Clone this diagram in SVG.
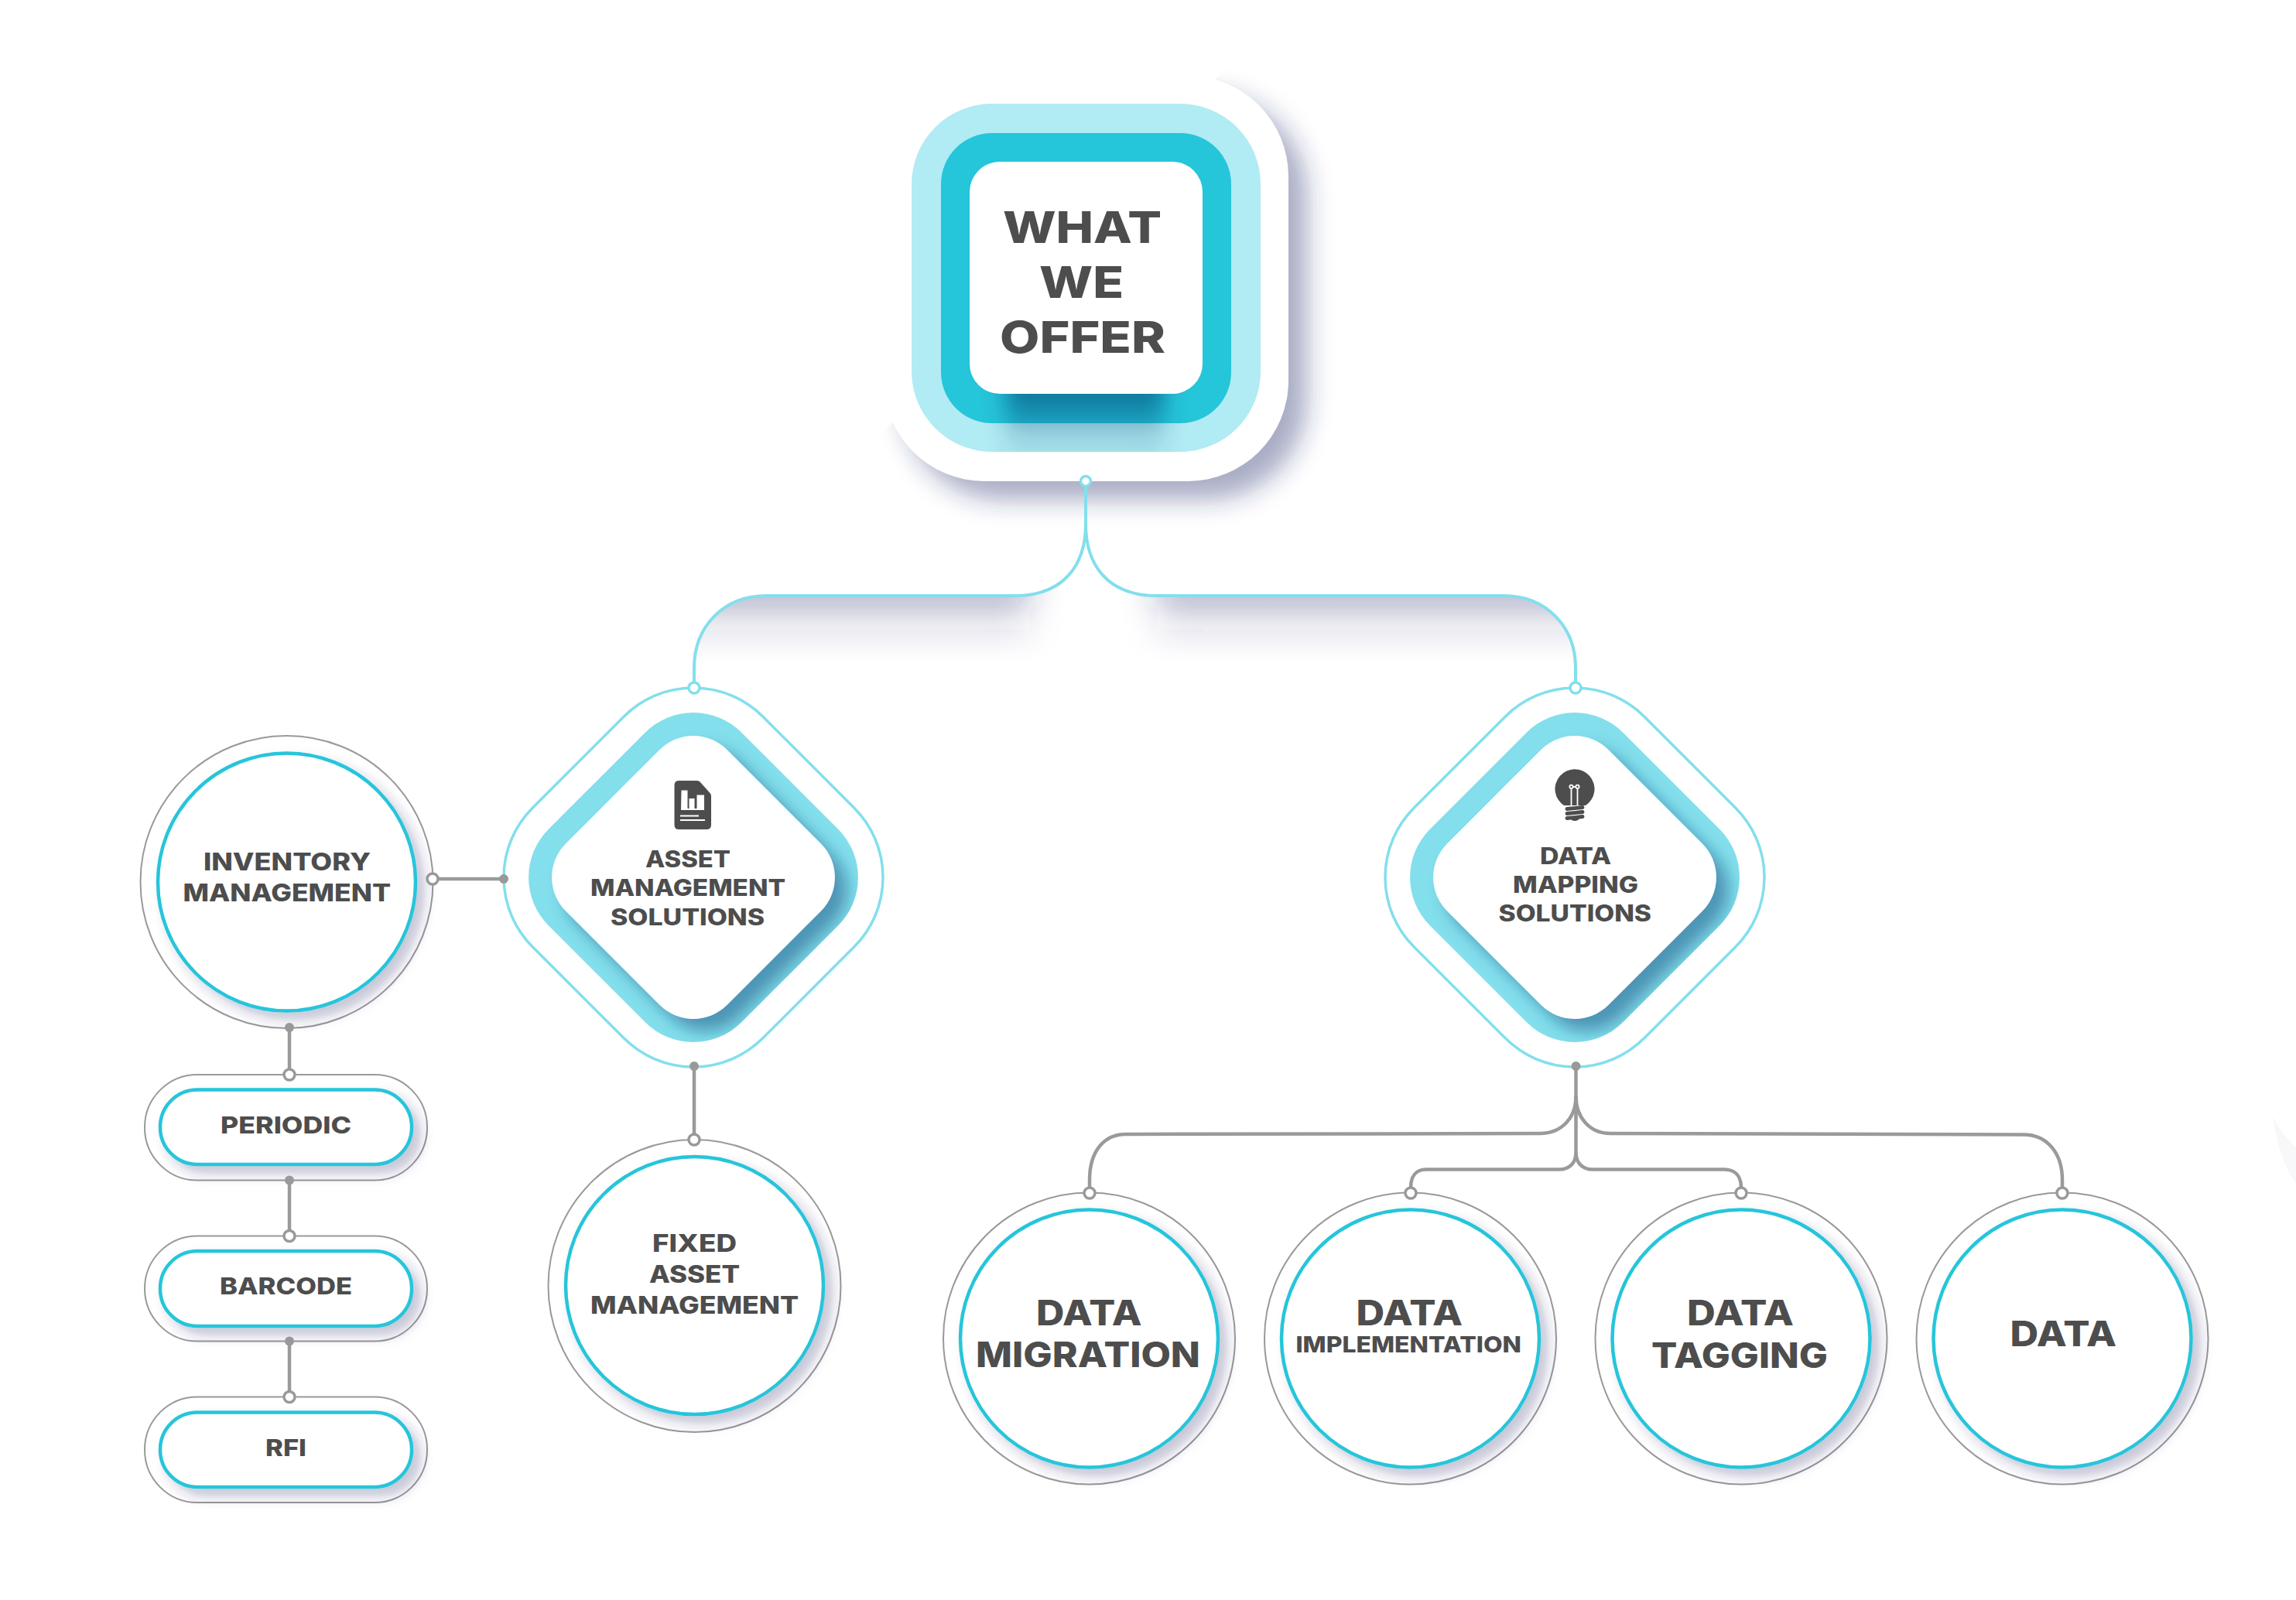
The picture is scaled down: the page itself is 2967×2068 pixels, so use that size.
<svg xmlns="http://www.w3.org/2000/svg" width="2967" height="2068" viewBox="0 0 2967 2068">
<style>
text{font-family:"Inter","Liberation Sans",sans-serif;font-weight:800;fill:#4d4d4d}
.ring{fill:#fff;stroke:#999;stroke-width:2}
.core{fill:#fff;stroke:#25c5da;stroke-width:4.5;filter:url(#soft)}
.dl{fill:none;stroke:#83dfec;stroke-width:3.5}
.band{fill:#83dfec}
.cy{fill:none;stroke:#83dfec;stroke-width:4}
.gr{fill:none;stroke:#9a9a9a;stroke-width:4.500}
.gd{fill:#999}
.go{fill:#fff;stroke:#999;stroke-width:3.5}
.cd{fill:#fff;stroke:#83dfec;stroke-width:3.5}
.ic{fill:#4d4d4d}
.icw{fill:#fff}
</style>
<defs>
<filter id="soft" x="-20%" y="-30%" width="140%" height="160%"><feDropShadow dx="10" dy="10" stdDeviation="8" flood-color="#2b2d6e" flood-opacity=".28"/></filter>
<filter id="b16" x="-20%" y="-20%" width="140%" height="140%"><feGaussianBlur stdDeviation="16"/></filter>
<filter id="b14" x="-30%" y="-30%" width="160%" height="160%"><feGaussianBlur stdDeviation="14"/></filter>
<filter id="b10" x="-30%" y="-30%" width="160%" height="160%"><feGaussianBlur stdDeviation="10"/></filter>
<filter id="bw" x="-30%" y="-30%" width="160%" height="160%"><feGaussianBlur stdDeviation="22 8"/></filter>
<linearGradient id="sh" gradientUnits="userSpaceOnUse" x1="0" y1="770" x2="0" y2="850"><stop offset="0" stop-color="#2b2d6e" stop-opacity=".3"/><stop offset=".45" stop-color="#2b2d6e" stop-opacity=".1"/><stop offset="1" stop-color="#2b2d6e" stop-opacity="0"/></linearGradient>
<linearGradient id="boxsh" gradientUnits="userSpaceOnUse" x1="0" y1="505" x2="0" y2="590"><stop offset="0" stop-color="#0b3f70" stop-opacity=".6"/><stop offset=".48" stop-color="#0b3f70" stop-opacity=".3"/><stop offset=".5" stop-color="#0b3f70" stop-opacity=".18"/><stop offset="1" stop-color="#0b3f70" stop-opacity=".06"/></linearGradient>
<path id="dOuter" d="M-89.8-207.8A127 127 0 0 1 89.8-207.8L207.8-89.8A127 127 0 0 1 207.8 89.8L89.8 207.8A127 127 0 0 1-89.8 207.8L-207.8 89.8A127 127 0 0 1-207.8-89.8Z"/>
<path id="dBand" d="M-62.2-187.2A88 88 0 0 1 62.2-187.2L187.2-62.2A88 88 0 0 1 187.2 62.2L62.2 187.2A88 88 0 0 1-62.2 187.2L-187.2 62.2A88 88 0 0 1-187.2-62.2Z"/>
<path id="dCore" d="M-43.8-164.8A62 62 0 0 1 43.8-164.8L164.8-43.8A62 62 0 0 1 164.8 43.8L43.8 164.8A62 62 0 0 1-43.8 164.8L-164.8 43.8A62 62 0 0 1-164.8-43.8Z"/>
<clipPath id="cBand"><use href="#dBand"/></clipPath>
<clipPath id="cLight"><rect x="1178" y="134" width="451" height="450" rx="104"/></clipPath>
<clipPath id="cDiag"><polygon points="1610,60 2000,60 2000,900 1000,900 1000,700 1145,555"/></clipPath>
<clipPath id="cArchL"><path d="M1403 677C1403 730 1375 770 1311.500 770H990C935 770 897 810 897 863V900H1403Z"/></clipPath>
<clipPath id="cArchR"><path d="M1403 677C1403 730 1431 770 1495 770H1943C1998 770 2036 810 2036 863V900H1403Z"/></clipPath>
</defs>
<rect width="2967" height="2068" fill="#fff"/>
<path d="M2937 1443Q2950 1468 2967 1483V1530Q2945 1500 2937 1443Z" fill="#2b2d6e" fill-opacity=".035"/>

<g id="node-what-we-offer">
<g clip-path="url(#cDiag)"><rect x="1166" y="122" width="523" height="524" rx="130" fill="#2b2d6e" fill-opacity=".4" filter="url(#b16)"/></g>
<rect x="1142" y="98" width="523" height="524" rx="130" fill="#fff"/>
<rect x="1178" y="134" width="451" height="450" rx="104" fill="#b1ebf3"/>
<rect x="1216" y="172" width="375" height="375" rx="66" fill="#25c5da"/>
<g clip-path="url(#cLight)"><rect x="1300" y="480" width="205" height="115" fill="url(#boxsh)" filter="url(#b14)"/></g>
<rect x="1253" y="209" width="301" height="300" rx="39" fill="#fff"/>
<text x="1296" y="314" font-size="57" textLength="205" lengthAdjust="spacingAndGlyphs">WHAT</text>
<text x="1343" y="385" font-size="57" textLength="109" lengthAdjust="spacingAndGlyphs">WE</text>
<text x="1292" y="456" font-size="57" textLength="214" lengthAdjust="spacingAndGlyphs">OFFER</text>
</g>

<g id="node-asset-solutions">
<g transform="translate(896 1134)">
<use href="#dOuter" class="dl" fill="#fff"/>
<use href="#dBand" class="band"/>
<g clip-path="url(#cBand)"><use href="#dCore" x="16" y="16" fill="#1b4c80" fill-opacity=".5" filter="url(#b10)"/></g>
<use href="#dCore" fill="#fff"/>
</g>
<path class="ic" d="M877 1009H901Q903 1009 904.500 1010.500L917.500 1025Q919 1026.500 919 1029V1066Q919 1072 913 1072H877Q871.500 1072 871.500 1066V1015Q871.500 1009 877 1009Z"/>
<path class="icw" d="M880.500 1021.500H888.500V1045H890.500V1032H897.500V1045H900.500V1027.500H910V1047H880Z"/>
<rect class="icw" x="879" y="1053.500" width="24" height="2"/>
<rect class="icw" x="879" y="1059" width="32" height="2"/>
<text x="834" y="1121" font-size="29.300" textLength="110" lengthAdjust="spacingAndGlyphs">ASSET</text>
<text x="763" y="1158" font-size="29.300" textLength="252" lengthAdjust="spacingAndGlyphs">MANAGEMENT</text>
<text x="789" y="1196" font-size="29.300" textLength="199" lengthAdjust="spacingAndGlyphs">SOLUTIONS</text>
</g>

<g id="node-data-mapping">
<g transform="translate(2035 1134)">
<use href="#dOuter" class="dl" fill="#fff"/>
<use href="#dBand" class="band"/>
<g clip-path="url(#cBand)"><use href="#dCore" x="16" y="16" fill="#1b4c80" fill-opacity=".5" filter="url(#b10)"/></g>
<use href="#dCore" fill="#fff"/>
</g>
<path class="ic" d="M2021 1041A25.500 25.500 0 1 1 2049 1041Z"/>
<g fill="none" stroke="#fff" stroke-width="1.800"><path d="M2030.500 1041V1019M2038.500 1041V1019M2032.500 1017H2036.500"/><circle cx="2030.500" cy="1016.800" r="2.200"/><circle cx="2038.500" cy="1016.800" r="2.200"/></g>
<g stroke="#4d4d4d" stroke-width="4.800" stroke-linecap="round" fill="none"><path d="M2025 1045.500L2045 1043.500M2025 1051.500L2045 1049.500M2025 1057.500L2045 1055.500"/></g>
<path class="ic" d="M2029 1058H2041Q2039 1061 2035 1061Q2031 1061 2029 1058Z"/>
<text x="1990" y="1116.500" font-size="29.300" textLength="92" lengthAdjust="spacingAndGlyphs">DATA</text>
<text x="1955" y="1154" font-size="29.300" textLength="162" lengthAdjust="spacingAndGlyphs">MAPPING</text>
<text x="1936.500" y="1191" font-size="29.300" textLength="197.500" lengthAdjust="spacingAndGlyphs">SOLUTIONS</text>
</g>

<g id="node-inventory">
<circle class="ring" cx="370.500" cy="1140" r="189"/><circle class="core" cx="370.500" cy="1140" r="166.500"/>
<text x="263" y="1125" font-size="30.700" textLength="216" lengthAdjust="spacingAndGlyphs">INVENTORY</text>
<text x="236.500" y="1165" font-size="30.700" textLength="268.500" lengthAdjust="spacingAndGlyphs">MANAGEMENT</text>
</g>
<g id="node-periodic">
<rect class="ring" x="187" y="1389" width="365" height="136.500" rx="68"/><rect class="core" x="207" y="1408.500" width="325" height="96.500" rx="48"/>
<text x="285" y="1465" font-size="30" textLength="169" lengthAdjust="spacingAndGlyphs">PERIODIC</text>
</g>
<g id="node-barcode">
<rect class="ring" x="187" y="1597.500" width="365" height="136" rx="68"/><rect class="core" x="207" y="1617" width="325" height="97" rx="48"/>
<text x="284" y="1673" font-size="30" textLength="171" lengthAdjust="spacingAndGlyphs">BARCODE</text>
</g>
<g id="node-rfi">
<rect class="ring" x="187" y="1805.500" width="365" height="136.500" rx="68"/><rect class="core" x="207" y="1825.500" width="325" height="96.500" rx="48"/>
<text x="343" y="1882" font-size="30" textLength="53" lengthAdjust="spacingAndGlyphs">RFI</text>
</g>
<g id="node-fixed-asset">
<circle class="ring" cx="897.500" cy="1662" r="189"/><circle class="core" cx="897.500" cy="1661.500" r="166.500"/>
<text x="843" y="1618" font-size="31" textLength="109" lengthAdjust="spacingAndGlyphs">FIXED</text>
<text x="839" y="1658" font-size="31" textLength="117" lengthAdjust="spacingAndGlyphs">ASSET</text>
<text x="763" y="1698" font-size="31" textLength="269" lengthAdjust="spacingAndGlyphs">MANAGEMENT</text>
</g>
<g id="node-data-migration">
<circle class="ring" cx="1407.500" cy="1730" r="188.500"/><circle class="core" cx="1407.500" cy="1730" r="166.500"/>
<text x="1339" y="1713" font-size="45" textLength="136.500" lengthAdjust="spacingAndGlyphs">DATA</text>
<text x="1261" y="1767" font-size="45" textLength="290" lengthAdjust="spacingAndGlyphs">MIGRATION</text>
</g>
<g id="node-data-implementation">
<circle class="ring" cx="1822.500" cy="1730" r="188.500"/><circle class="core" cx="1822.500" cy="1730" r="166.500"/>
<text x="1752.500" y="1713" font-size="45" textLength="137.500" lengthAdjust="spacingAndGlyphs">DATA</text>
<text x="1674.500" y="1748" font-size="29" textLength="291.500" lengthAdjust="spacingAndGlyphs">IMPLEMENTATION</text>
</g>
<g id="node-data-tagging">
<circle class="ring" cx="2250" cy="1730" r="188.500"/><circle class="core" cx="2250" cy="1730" r="166.500"/>
<text x="2180" y="1713" font-size="45" textLength="138" lengthAdjust="spacingAndGlyphs">DATA</text>
<text x="2134" y="1767.500" font-size="45" textLength="228" lengthAdjust="spacingAndGlyphs">TAGGING</text>
</g>
<g id="node-data">
<circle class="ring" cx="2665" cy="1730" r="188.500"/><circle class="core" cx="2665" cy="1730" r="166.500"/>
<text x="2597.500" y="1740" font-size="45" textLength="137.500" lengthAdjust="spacingAndGlyphs">DATA</text>
</g>

<g id="connectors">
<g clip-path="url(#cArchL)"><path d="M850 735H1330V860H850Z" fill="url(#sh)" filter="url(#bw)"/></g>
<g clip-path="url(#cArchR)"><path d="M1495 735H2080V860H1495Z" fill="url(#sh)" filter="url(#bw)"/></g>
<path class="cy" d="M1403 622V677C1403 730 1375 770 1311.500 770H990C935 770 897 810 897 863V889"/>
<path class="cy" d="M1403 677C1403 730 1431 770 1495 770H1943C1998 770 2036 810 2036 863V889"/>
<path class="gr" d="M559 1136H651"/>
<path class="gr" d="M374 1328V1389M374 1525.500V1597.500M374 1733.500V1805.500"/>
<path class="gr" d="M897 1378V1473"/>
<path class="gr" d="M2036.500 1378V1490"/>
<path class="gr" d="M2036.500 1417C2036.500 1445 2018 1465 1989.500 1465L1455 1466C1425 1466 1408 1490 1408 1525V1542"/>
<path class="gr" d="M2036.500 1417C2036.500 1445 2055 1465 2081 1465L2615 1466.500C2645 1466.500 2665 1490 2665 1525V1542"/>
<path class="gr" d="M2036.500 1490C2036.500 1503 2028 1511.500 2015 1511.500H1843C1830 1511.500 1823 1520 1823 1535V1542"/>
<path class="gr" d="M2036.500 1490C2036.500 1503 2045 1511.500 2058 1511.500H2228C2242 1511.500 2250 1520 2250 1535V1542"/>
<circle class="cd" cx="1403" cy="622" r="6.500"/>
<circle class="cd" cx="897" cy="889" r="7"/>
<circle class="cd" cx="2036" cy="889" r="7"/>
<circle class="go" cx="559" cy="1136" r="7"/><circle class="gd" cx="651" cy="1136" r="6"/>
<circle class="gd" cx="374" cy="1328" r="6"/><circle class="go" cx="374" cy="1389" r="7"/>
<circle class="gd" cx="374" cy="1525.500" r="6"/><circle class="go" cx="374" cy="1597.500" r="7"/>
<circle class="gd" cx="374" cy="1733.500" r="6"/><circle class="go" cx="374" cy="1805.500" r="7"/>
<circle class="gd" cx="897" cy="1378" r="6"/><circle class="go" cx="897" cy="1473" r="7"/>
<circle class="gd" cx="2036.500" cy="1378" r="6"/>
<circle class="go" cx="1408" cy="1542" r="7"/><circle class="go" cx="1823" cy="1542" r="7"/><circle class="go" cx="2250" cy="1542" r="7"/><circle class="go" cx="2665" cy="1542" r="7"/>
</g>
</svg>
